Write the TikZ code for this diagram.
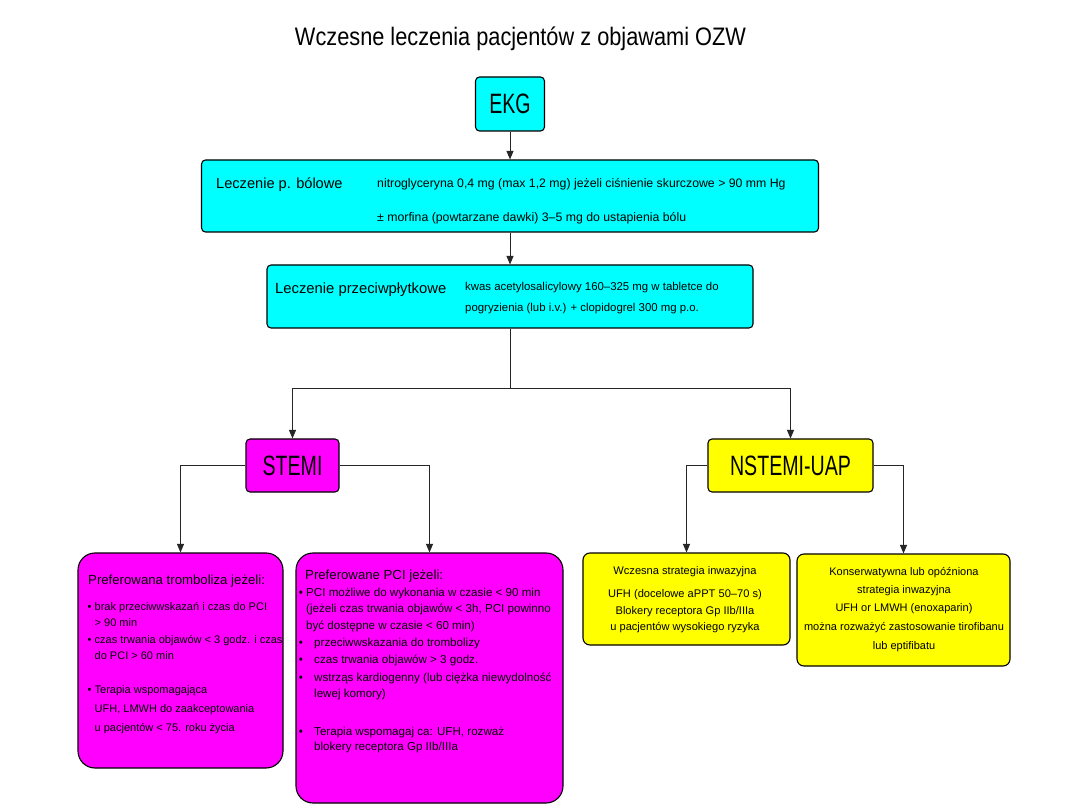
\documentclass[tikz,border=0pt]{standalone}
\usepackage{fontspec}
\setmainfont{Liberation Sans}
\newfontfamily\nf[FakeStretch=0.86]{Liberation Sans}
\newfontfamily\cf[FakeStretch=0.7]{Liberation Sans}
\usetikzlibrary{arrows.meta}
\definecolor{cy}{HTML}{00FFFF}
\definecolor{mg}{HTML}{FF00FF}
\definecolor{yl}{HTML}{FFFF00}
\newcommand{\fsz}[1]{\fontsize{#1}{#1}\selectfont}
\tikzset{
 box/.style={draw=black, line width=1.1pt, rounded corners=4pt, inner sep=0pt, anchor=center},
 conn/.style={line width=0.9pt, draw=black!85},
 arr/.style={conn, -{Triangle[length=8.5pt,width=7pt]}},
 lbl/.style={inner sep=0pt, anchor=base west},
 clbl/.style={inner sep=0pt, anchor=base},
 big/.style={font=\cf\fsz{28}},
 sm/.style={lbl, font=\fsz{11}},
 smb/.style={lbl, font=\fsz{11.6}},
 y1t/.style={clbl, font=\fsz{11.1}},
 y2t/.style={clbl, font=\fsz{11}},
 head/.style={lbl, font=\fsz{13.2}},
}
\begin{document}
\begin{tikzpicture}[x=1pt,y=-1pt]
\useasboundingbox (0,0) rectangle (1080,810);
\fill[white] (0,0) rectangle (1080,810);

\node[clbl, font=\nf\fsz{25.3}] (title) at (520.5,46) {Wczesne leczenia pacjentów z objawami OZW};

\node[box, fill=cy, minimum width=69pt, minimum height=54pt, big] (ekg) at (510,104) {EKG};

\node[box, fill=cy, minimum width=617pt, minimum height=72pt] (b2) at (510,196) {};
\node[lbl, font=\fsz{14.6}] (b2l) at (216,188.5) {Leczenie p. bólowe};
\node[lbl, font=\fsz{12.3}] (b2a) at (377,187.5) {nitroglyceryna 0,4 mg (max 1,2 mg) jeżeli ciśnienie skurczowe > 90 mm Hg};
\node[lbl, font=\fsz{12.3}] (b2b) at (377,221.5) {± morfina (powtarzane dawki) 3–5 mg do ustapienia bólu};

\node[box, fill=cy, minimum width=486pt, minimum height=63pt] (b3) at (510,296.5) {};
\node[lbl, font=\fsz{14.8}] (b3l) at (275,293.3) {Leczenie przeciwpłytkowe};
\node[lbl, font=\fsz{11.4}] (b3a) at (465,290.7) {kwas acetylosalicylowy 160–325 mg w tabletce do};
\node[lbl, font=\fsz{11.4}] (b3b) at (465,311.5) {pogryzienia (lub i.v.) + clopidogrel 300 mg p.o.};

\node[box, fill=mg, minimum width=93pt, minimum height=53pt, big] (stemi) at (292.5,465.5) {STEMI};
\node[box, fill=yl, minimum width=165pt, minimum height=53pt, big] (nstemi) at (790.5,465.5) {NSTEMI-UAP};

\node[box, fill=mg, rounded corners=17pt, minimum width=205pt, minimum height=215pt] (l1) at (180.5,660.5) {};
\node[box, fill=mg, rounded corners=17pt, minimum width=267pt, minimum height=250pt] (l2) at (429.5,678) {};
\node[box, fill=yl, rounded corners=7pt, minimum width=207pt, minimum height=92pt] (y1) at (686.5,599) {};
\node[box, fill=yl, rounded corners=7pt, minimum width=213pt, minimum height=112pt] (y2) at (903.5,610) {};

% L1 texts
\node[head] (l1h) at (88,584.3) {Preferowana tromboliza jeżeli:};
\node[sm] (l1b1) at (87.5,610.7) {•};
\node[sm] (l1t1) at (94.5,610.7) {brak przeciwwskazań i czas do PCI};
\node[sm] (l1t2) at (94.5,626.7) {> 90 min};
\node[sm] (l1b3) at (87.5,643.3) {•};
\node[sm] (l1t3) at (94.5,643.3) {czas trwania objawów < 3 godz. i czas};
\node[sm] (l1t4) at (94.5,659.3) {do PCI > 60 min};
\node[sm] (l1b5) at (87.5,693.3) {•};
\node[sm] (l1t5) at (94.5,693.3) {Terapia wspomagająca};
\node[sm] (l1t6) at (94.5,712.7) {UFH, LMWH do zaakceptowania};
\node[sm] (l1t7) at (94.5,731.7) {u pacjentów < 75. roku życia};

% L2 texts
\node[head] (l2h) at (305,579.3) {Preferowane PCI jeżeli:};
\node[smb] (l2b1) at (298.7,596) {•};
\node[smb] (l2t1) at (306,596) {PCI możliwe do wykonania w czasie < 90 min};
\node[smb] (l2t2) at (306,612.7) {(jeżeli czas trwania objawów < 3h, PCI powinno};
\node[smb] (l2t3) at (306,629.3) {być dostępne w czasie < 60 min)};
\node[smb] (l2b4) at (298.7,646.7) {•};
\node[smb] (l2t4) at (314,646.7) {przeciwwskazania do trombolizy};
\node[smb] (l2b5) at (298.7,663.3) {•};
\node[smb] (l2t5) at (314,663.3) {czas trwania objawów > 3 godz.};
\node[smb] (l2b6) at (298.7,681.7) {•};
\node[smb] (l2t6) at (314,681.7) {wstrząs kardiogenny (lub ciężka niewydolność};
\node[smb] (l2t7) at (314,697.3) {lewej komory)};
\node[smb] (l2b8) at (298.7,735) {•};
\node[smb] (l2t8) at (314,735) {Terapia wspomagaj ca: UFH, rozważ};
\node[smb] (l2t9) at (314,750.7) {blokery receptora Gp IIb/IIIa};

% Y1 texts
\node[y1t] (y1a) at (685,574.7) {Wczesna strategia inwazyjna};
\node[y1t] (y1b) at (685,597.3) {UFH (docelowe aPPT 50–70 s)};
\node[y1t] (y1c) at (685,614.7) {Blokery receptora Gp IIb/IIIa};
\node[y1t] (y1d) at (685,630.5) {u pacjentów wysokiego ryzyka};

% Y2 texts
\node[y2t] (y2a) at (904,575.3) {Konserwatywna lub opóźniona};
\node[y2t] (y2b) at (904,593.7) {strategia inwazyjna};
\node[y2t] (y2c) at (904,611.3) {UFH or LMWH (enoxaparin)};
\node[y2t] (y2d) at (904,630.3) {można rozważyć zastosowanie tirofibanu};
\node[y2t] (y2e) at (904,649) {lub eptifibatu};

% connectors
\coordinate (split) at (510,388);
\draw[arr] (ekg.south) -- (b2.north);
\draw[arr] (b2.south) -- (b3.north);
\draw[conn] (b3.south) -- (split);
\draw[arr] (split) -| (stemi.north);
\draw[arr] (split) -| (nstemi.north);
\draw[arr] (stemi.west) -| (l1.north);
\draw[arr] (stemi.east) -| (l2.north);
\draw[arr] (nstemi.west) -| (y1.north);
\draw[arr] (nstemi.east) -| (y2.north);
\end{tikzpicture}
\end{document}
